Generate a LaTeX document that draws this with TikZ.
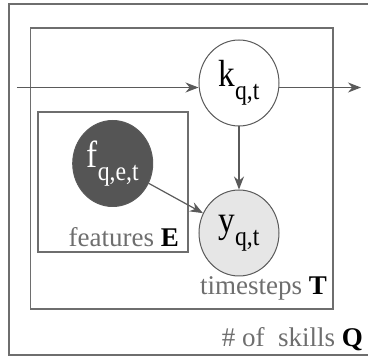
\documentclass[tikz,border=0pt]{standalone}
\usepackage{fontspec}
\setmainfont{Liberation Serif}
\usetikzlibrary{shapes.geometric,arrows.meta}

\definecolor{linegray}{HTML}{5A5A5A}
\definecolor{labelgray}{HTML}{6E6E6E}
\definecolor{obsdark}{HTML}{555555}
\definecolor{obslight}{HTML}{E6E6E6}

% variable name with a lowered index, set in the node's own sizes
\newcommand{\varname}[2]{\scalebox{0.95}[1.08]{{\fontsize{35}{35}\selectfont #1}\raisebox{-12pt}{\fontsize{25}{25}\selectfont #2}}}

\tikzset{
  plate/.style={draw=labelgray, line width=1.2pt},
  var/.style={ellipse, draw=linegray, line width=1pt, minimum width=80pt, minimum height=86pt, inner sep=0pt},
  edge/.style={draw=linegray, line width=1.2pt, -{Stealth[length=13pt,width=10pt]}},
  platelabel/.style={anchor=base east, inner sep=0pt, text=labelgray, font=\fontsize{27}{27}\selectfont}
}

\begin{document}
\begin{tikzpicture}[x=1pt,y=1pt]
  \useasboundingbox (0,0) rectangle (368,357);
  \clip (0,0) rectangle (368,357);

  % plates: skills, timesteps, features
  \draw[plate] (9,2) rectangle (380,353);
  \draw[plate] (30.5,48) rectangle (333,329);
  \draw[plate] (38,105) rectangle (188,245);

  % random variables
  \node[var, fill=white] (k) at (239,274) {\varname{k}{q,t}};
  \node[var, fill=obsdark, text=white] (f) at (112.7,193.5) {\varname{f}{q,e,t}};
  \node[var, fill=obslight] (y) at (239,124) {\varname{y}{q,t}};

  % chain across skills
  \coordinate (kin) at (17,269.5);
  \coordinate (kout) at (361,269.5);
  \draw[edge] (kin) -- (kin -| k.west);
  \draw[edge] (kout -| k.east) -- (kout);

  \draw[edge] (k.south) -- (y.north);
  \draw[edge] (f) -- (y);

  % plate labels
  \node[platelabel] (lf) at (179,110.3) {features \textcolor{black}{\textbf{E}}};
  \node[platelabel] (lt) at (327,62) {timesteps \textcolor{black}{\textbf{T}}};
  \node[platelabel] (lq) at (363,10.3) {\# of\ \ skills \textcolor{black}{\textbf{Q}}};
\end{tikzpicture}
\end{document}
